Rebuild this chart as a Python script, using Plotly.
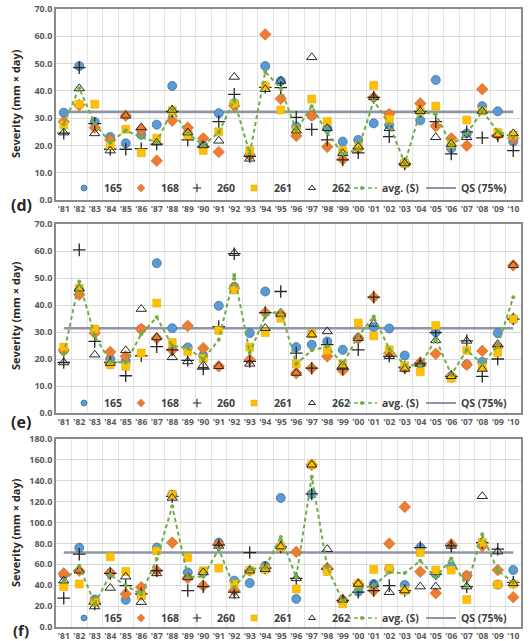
import plotly.graph_objects as go

years = ["'81", "'82", "'83", "'84", "'85", "'86", "'87", "'88", "'89", "'90",
         "'91", "'92", "'93", "'94", "'95", "'96", "'97", "'98", "'99", "'00",
         "'01", "'02", "'03", "'04", "'05", "'06", "'07", "'08", "'09", "'10"]
series_names = ["165", "168", "260", "261", "262"]

# Panel (d)
d165 = [32.0, 49.1, 28.6, 23.1, 20.8, 23.9, 27.6, 41.8, 24.4, 20.0, 31.8, 35.5, 16.5, 49.1, 43.6, 26.9, 30.9, 26.3, 21.4, 22.0, 28.1, 27.5, 13.6, 29.2, 44.0, 18.9, 24.4, 34.4, 32.5, 21.4]
d168 = [28.7, 34.8, 26.5, 22.0, 30.9, 25.7, 14.4, 29.1, 26.5, 22.6, 17.6, 34.5, 16.5, 60.7, 37.1, 23.5, 30.9, 19.5, 14.9, 18.9, 37.6, 31.5, 13.4, 35.4, 27.1, 22.6, 19.9, 40.6, 23.8, 22.6]
d260 = [24.5, 48.5, 28.0, 18.6, 18.6, 18.8, 20.5, 32.5, 22.0, 19.5, 28.7, 38.7, 16.0, 41.3, 41.2, 30.3, 25.9, 22.0, 14.7, 17.3, 37.6, 23.2, 13.2, 32.5, 28.7, 16.9, 25.0, 22.8, 23.5, 18.1]
d261 = [27.5, 35.1, 35.1, 19.9, 25.9, 17.3, 22.6, 32.7, 23.8, 18.2, 25.0, 35.3, 18.1, 41.8, 33.0, 25.7, 37.0, 28.8, 18.1, 19.5, 42.0, 29.6, 13.4, 32.5, 34.4, 20.5, 29.3, 32.6, 24.8, 23.8]
d262 = [24.7, 40.9, 24.4, 18.1, 30.9, 26.6, 21.0, 33.0, 24.7, 20.0, 21.7, 45.1, 15.1, 40.6, 43.6, 25.4, 52.3, 26.3, 17.1, 19.5, 37.6, 26.3, 13.4, 32.5, 23.0, 20.5, 23.0, 32.6, 23.8, 24.4]
d_avg = [27.8, 41.0, 28.0, 21.0, 25.5, 23.0, 21.2, 33.0, 24.4, 20.1, 24.8, 36.5, 17.0, 47.0, 40.9, 25.5, 34.4, 24.6, 16.9, 18.6, 36.4, 27.8, 13.4, 32.4, 31.4, 20.2, 24.2, 32.6, 25.2, 23.0]
d_qs = 32.3

# Panel (e)
e165 = [23.2, 45.6, 30.8, 20.0, 19.1, 31.1, 55.5, 31.4, 24.3, 21.3, 39.7, 46.8, 29.6, 45.0, 36.0, 24.4, 25.3, 26.5, 23.4, 27.7, 31.8, 31.3, 21.3, 18.2, 29.9, 13.6, 18.0, 18.9, 29.6, 34.8]
e168 = [23.2, 43.8, 29.6, 22.6, 21.0, 31.1, 27.7, 23.4, 32.3, 24.0, 17.3, 46.2, 19.7, 37.2, 36.7, 14.8, 16.6, 21.0, 15.8, 27.7, 42.9, 22.2, 16.6, 18.7, 21.9, 13.6, 17.9, 23.0, 24.4, 54.7]
e260 = [18.7, 60.4, 26.5, 18.7, 13.8, 21.2, 24.6, 23.4, 19.5, 16.3, 32.0, 59.0, 19.1, 37.2, 45.0, 22.2, 16.6, 25.3, 16.3, 23.4, 42.9, 21.0, 17.0, 18.2, 29.8, 13.6, 26.7, 13.6, 20.0, 34.8]
e261 = [24.4, 46.2, 31.1, 17.9, 17.3, 22.2, 40.7, 26.1, 22.8, 20.2, 30.6, 45.6, 24.4, 29.8, 35.1, 18.2, 29.3, 23.2, 18.2, 33.3, 28.6, 23.4, 17.5, 15.3, 32.4, 12.9, 23.2, 17.0, 22.4, 34.8]
e262 = [18.7, 46.0, 21.6, 18.5, 23.2, 38.5, 28.0, 20.6, 19.1, 17.7, 17.3, 59.2, 18.2, 31.4, 36.7, 14.8, 29.0, 30.2, 17.5, 27.7, 33.0, 21.0, 16.3, 18.2, 26.9, 13.6, 26.7, 16.3, 25.5, 54.7]
e_avg = [21.8, 48.7, 28.5, 19.1, 18.7, 29.2, 35.5, 24.9, 24.0, 19.9, 27.1, 51.1, 22.2, 36.0, 38.0, 18.2, 23.2, 24.6, 18.2, 28.5, 35.7, 23.7, 17.9, 17.5, 27.5, 14.2, 23.3, 18.2, 24.9, 42.9]
e_qs = 31.4

# Panel (f)
f165 = [50.0, 76.0, 26.3, 51.6, 26.0, 31.7, 76.0, 126.7, 52.3, 52.3, 80.8, 44.4, 42.1, 58.6, 123.6, 26.9, 127.4, 55.4, 25.3, 33.9, 41.2, 55.4, 40.2, 76.0, 50.7, 57.7, 49.1, 79.8, 40.6, 54.5]
f168 = [51.3, 53.9, 24.0, 51.6, 31.7, 38.0, 53.9, 80.8, 46.9, 39.6, 79.2, 34.9, 53.9, 56.4, 76.7, 71.9, 155.3, 56.4, 26.0, 41.2, 34.9, 79.8, 115.0, 52.9, 32.3, 79.2, 49.1, 77.6, 54.5, 28.5]
f260 = [27.6, 69.7, 22.0, 51.3, 39.6, 31.7, 53.9, 125.0, 34.9, 38.7, 78.3, 33.3, 71.3, 56.4, 76.7, 46.6, 127.4, 55.4, 25.3, 33.3, 34.9, 39.6, 34.9, 76.0, 50.7, 77.6, 38.7, 80.8, 74.5, 42.8]
f261 = [38.7, 41.2, 23.8, 67.2, 53.2, 30.1, 72.9, 126.7, 66.5, 53.9, 56.4, 41.2, 53.9, 55.4, 76.7, 36.4, 155.3, 53.2, 22.2, 41.2, 55.1, 56.1, 34.9, 71.3, 54.5, 54.5, 26.3, 80.8, 40.6, 41.2]
f262 = [44.4, 53.9, 19.6, 37.4, 48.2, 23.8, 51.3, 123.6, 47.5, 52.3, 77.6, 30.1, 53.9, 55.4, 77.0, 46.6, 155.3, 74.5, 26.0, 41.2, 40.6, 33.3, 34.9, 38.7, 38.7, 77.6, 38.7, 125.2, 72.2, 41.8]
f_avg = [43.7, 58.6, 22.2, 50.0, 39.6, 31.5, 65.0, 115.7, 48.2, 48.0, 74.5, 38.0, 55.4, 57.0, 86.2, 47.5, 143.9, 57.0, 24.7, 36.5, 39.6, 52.3, 51.6, 63.4, 47.5, 65.5, 38.7, 88.7, 53.9, 42.8]
f_qs = 71.3

panels = [
    dict(label="(d)", data=[d165, d168, d260, d261, d262], avg=d_avg, qs=d_qs, ymax=70, dtick=10),
    dict(label="(e)", data=[e165, e168, e260, e261, e262], avg=e_avg, qs=e_qs, ymax=70, dtick=10),
    dict(label="(f)", data=[f165, f168, f260, f261, f262], avg=f_avg, qs=f_qs, ymax=180, dtick=20),
]

# layout geometry (pixels)
W, H = 530, 641
ML, MR, MT, MB = 56, 9, 9, 14
PW = W - ML - MR
PH = H - MT - MB
panel_px = [(9, 200), (224, 413), (439, 627)]
legend_px = [188, 403, 618]
title_px = [104, 316, 533]
label_px = [205, 422, 630]
label_size = [16, 16, 15]
# legend item left edges (px): 165, 168, 260, 261, 262, avg, QS
legend_item_x = [64, 121, 177, 234, 292, 342, 421]


def py(p):
    return (H - MB - p) / PH


def pxx(p):
    return (p - ML) / PW


FONT = "Open Sans"
styles = [
    dict(symbol="circle", size=9, color="#5B9BD5", line=dict(color="#41719C", width=0.8)),
    dict(symbol="diamond", size=9, color="#ED7D31", line=dict(color="#C55A11", width=0.5)),
    dict(symbol="cross-thin", size=9, color="#262626", line=dict(color="#262626", width=1.3)),
    dict(symbol="square", size=8, color="#FFC000", line=dict(color="#E0A800", width=0.5)),
    dict(symbol="triangle-up-open", size=9, color="#262626", line=dict(color="#262626", width=1)),
]
leg_sizes = [6, 6, 6, 6, 6]
avg_line = dict(color="#70AD47", width=2, dash="4px,3px")
qs_line = dict(color="#8E96A6", width=2.6)

fig = go.Figure()
layout = dict(
    width=W, height=H,
    margin=dict(l=ML, r=MR, t=MT, b=MB, autoexpand=False),
    paper_bgcolor="white", plot_bgcolor="white",
    font=dict(family=FONT, color="#404040"),
    annotations=[],
)

leg_idx = 0


def next_legend(xpix, ypix):
    global leg_idx
    leg_idx += 1
    name = "legend" if leg_idx == 1 else "legend%d" % leg_idx
    layout[name] = dict(
        orientation="h", x=pxx(xpix), xanchor="left", y=py(ypix), yanchor="middle",
        bgcolor="rgba(0,0,0,0)", borderwidth=0,
        font=dict(size=10.5, color="#404040", family=FONT, weight="bold"),
        itemwidth=30)
    return name


for i, p in enumerate(panels):
    n = "" if i == 0 else str(i + 1)
    xa, ya = "x" + n, "y" + n
    top, bot = panel_px[i]
    ly = legend_px[i]
    # QS line
    fig.add_trace(go.Scatter(
        x=[years[0], years[-1]], y=[p["qs"], p["qs"]], mode="lines",
        name="QS (75%)", line=qs_line, showlegend=False, xaxis=xa, yaxis=ya))
    for k, (nm, vals) in enumerate(zip(series_names, p["data"])):
        fig.add_trace(go.Scatter(
            x=years, y=vals, mode="markers", name=nm, marker=styles[k],
            showlegend=False, xaxis=xa, yaxis=ya))
    fig.add_trace(go.Scatter(
        x=years, y=p["avg"], mode="lines+markers", name="avg. (S)",
        line=avg_line, marker=dict(symbol="circle", size=4, color="#70AD47"),
        showlegend=False, xaxis=xa, yaxis=ya))

    # legend entries (one legend per entry for exact placement)
    for k, nm in enumerate(series_names):
        st = dict(styles[k])
        st["size"] = leg_sizes[k]
        if k == 2:
            st["line"] = dict(color="#262626", width=1.1)
        fig.add_trace(go.Scatter(
            x=[None], y=[None], mode="markers", name=nm, marker=st,
            xaxis=xa, yaxis=ya, legend=next_legend(legend_item_x[k], ly)))
    fig.add_trace(go.Scatter(
        x=[None], y=[None], mode="lines+markers", name="avg. (S)",
        line=dict(color="#70AD47", width=1.6, dash="4px,3px"),
        marker=dict(symbol="circle", size=4, color="#70AD47"),
        xaxis=xa, yaxis=ya, legend=next_legend(legend_item_x[5], ly)))
    fig.add_trace(go.Scatter(
        x=[None], y=[None], mode="lines", name="QS (75%)", line=dict(color="#8E96A6", width=2),
        xaxis=xa, yaxis=ya, legend=next_legend(legend_item_x[6], ly)))

    layout["xaxis" + n] = dict(
        domain=[0, 1], anchor=ya, type="category", categoryorder="array",
        categoryarray=years, range=[-0.5, len(years) - 0.5], tickangle=0,
        tickson="boundaries", ticks="", showgrid=True, gridcolor="#E4E4E4", gridwidth=1,
        showline=True, mirror=True, linecolor="#8A8A8A", linewidth=1.5,
        tickfont=dict(size=8.5, color="#595959", family=FONT, weight="bold"),
        fixedrange=True, zeroline=False)
    layout["yaxis" + n] = dict(
        domain=[py(bot), py(top)], anchor=xa, range=[0, p["ymax"]], dtick=p["dtick"],
        tickformat=".1f", showgrid=True, gridcolor="#D9D9D9", gridwidth=1,
        showline=True, mirror=True, linecolor="#8A8A8A", linewidth=1.5, ticks="",
        tickfont=dict(size=9, color="#595959", family=FONT, weight="bold"),
        zeroline=False, fixedrange=True)
    layout["annotations"].append(dict(
        text="Severity (mm \u00d7 day)", textangle=-90, xref="paper", yref="paper",
        x=pxx(15), y=py(title_px[i]), xanchor="center", yanchor="middle",
        showarrow=False, font=dict(size=11, color="#262626", family=FONT, weight="bold")))
    layout["annotations"].append(dict(
        text=p["label"], xref="paper", yref="paper",
        x=pxx(21), y=py(label_px[i]), xanchor="center", yanchor="middle",
        showarrow=False, font=dict(size=label_size[i], color="#262626", family=FONT, weight="bold")))

fig.update_layout(**layout)
fig.write_html("out.html")
